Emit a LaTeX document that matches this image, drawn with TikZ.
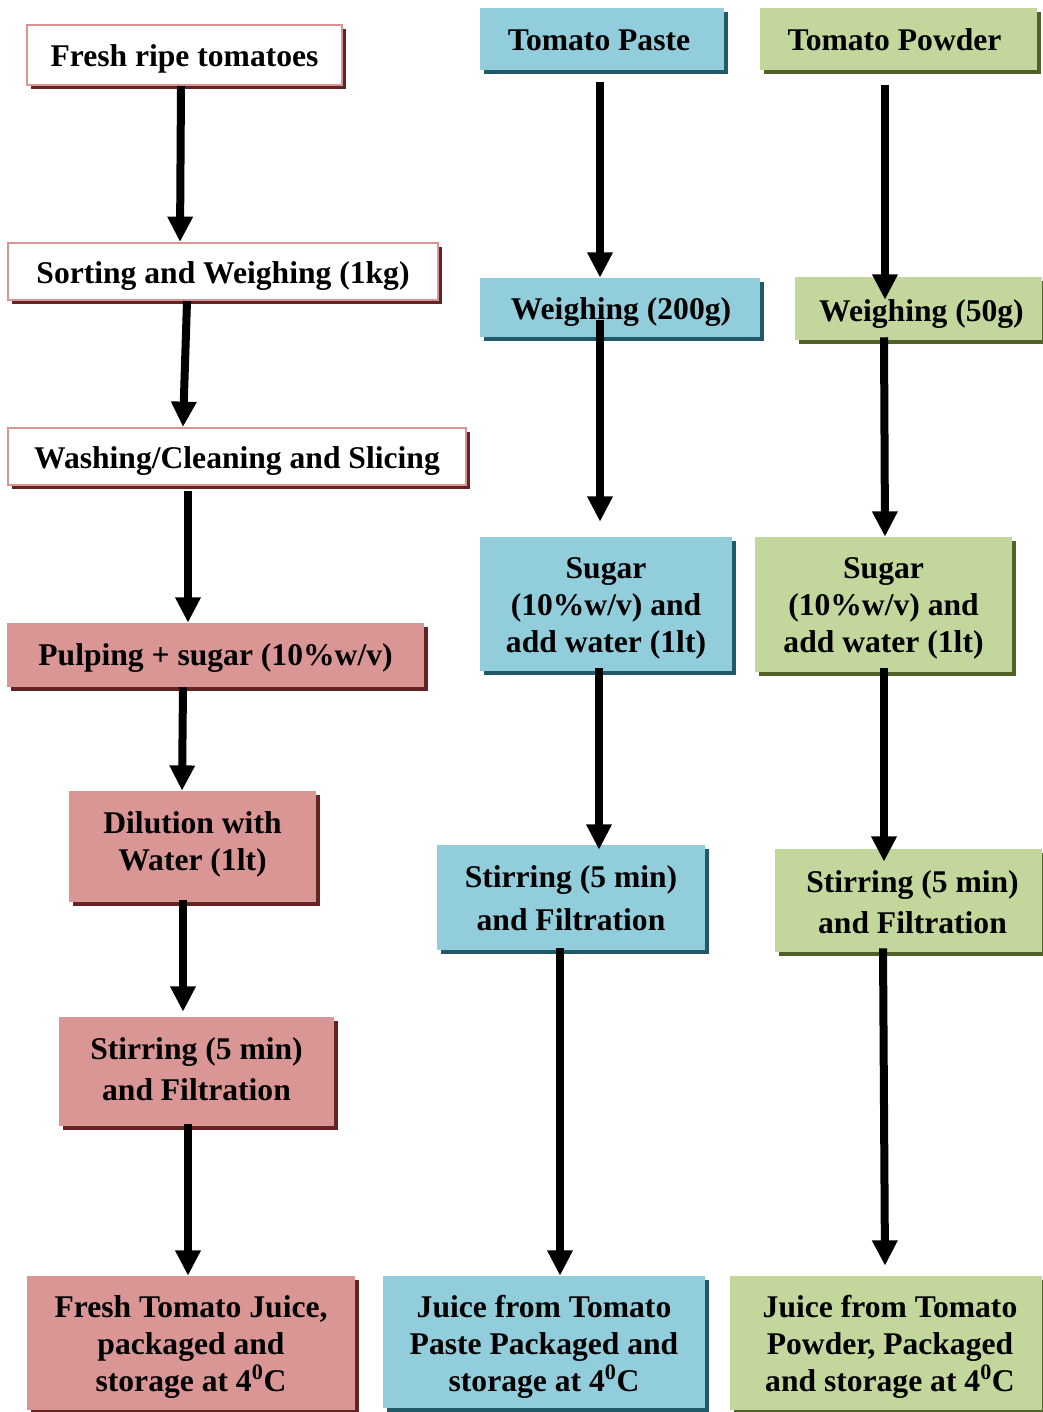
\documentclass[tikz,border=0pt]{standalone}
\usepackage{fontspec}
\setmainfont{Liberation Serif}
\usetikzlibrary{arrows.meta,shadows}
\definecolor{tjrose}    {HTML}{D99694}
\definecolor{tjroseline}{HTML}{D99594}
\definecolor{tjmaroon}  {HTML}{632523}
\definecolor{tjsky}     {HTML}{92CDDC}
\definecolor{tjteal}    {HTML}{215968}
\definecolor{tjsage}    {HTML}{C3D69B}
\definecolor{tjolive}   {HTML}{4F6228}
\newcommand{\pxu}{0.75pt}
\tikzset{
  tjbox/.style 2 args={minimum width=#1*\pxu, minimum height=#2*\pxu, inner sep=0pt},
  tjtext/.style 2 args={label={[align=center, shift={#1},
                       font=\fontsize{23.7}{27.8}\selectfont\bfseries]center:#2}},
  tjshade/.style={drop shadow={shadow xshift=3pt, shadow yshift=-3pt, fill=#1, opacity=1}},
  tjwhite/.style={fill=white, draw=tjroseline, line width=1.5pt, tjshade=tjmaroon},
  tjred/.style={fill=tjrose, tjshade=tjmaroon},
  tjblue/.style={fill=tjsky, tjshade=tjteal},
  tjgreen/.style={fill=tjsage, tjshade=tjolive},
  tjflow/.style={line width=6pt, -{Triangle[width=18pt,length=19pt]}},
}

\begin{document}
\begin{tikzpicture}[x=\pxu,y=-\pxu]
  \useasboundingbox (0,0) rectangle (1042,1412);
  \fill[white] (0,0) rectangle (1042,1412);

  % fresh tomatoes
  \node[tjwhite,tjbox={315}{60},tjtext={(0,4)}{Fresh ripe tomatoes}] (fresh) at (184.5,55) {};
  \node[tjwhite,tjbox={430}{57},tjtext={(0,5)}{Sorting and Weighing (1kg)}] (sort) at (223,271.5) {};
  \node[tjwhite,tjbox={458}{57},tjtext={(0,5)}{Washing/Cleaning and Slicing}] (wash) at (237,456.5) {};
  \node[tjred,tjbox={417}{64},tjtext={(0,3)}{Pulping + sugar (10\%w/v)}] (pulp) at (215.5,655) {};
  \node[tjred,tjbox={247}{111},tjtext={(0,-2)}{Dilution with\\Water (1lt)}] (dilu) at (192.5,846.5) {};
  \node[tjred,tjbox={275}{109},tjtext={(0,-2)}{Stirring (5 min)\\[3pt]and Filtration}] (stirL) at (196.5,1071.5) {};
  \node[tjred,tjbox={328}{134},
        tjtext={(0,4)}{Fresh Tomato Juice,\\packaged and\\storage at 4\textsuperscript{0}C}] (juiceL) at (191,1343) {};

  % tomato paste
  \node[tjblue,tjbox={244}{62},tjtext={(-3,1)}{Tomato Paste}] (paste) at (602,39) {};
  \node[tjblue,tjbox={280}{59},tjtext={(1,5)}{Weighing (200g)}] (weighB) at (620,307.5) {};
  \node[tjblue,tjbox={252}{134},tjtext={(0,4)}{Sugar\\(10\%w/v) and\\add water (1lt)}] (sugarB) at (606,604) {};
  \node[tjblue,tjbox={268}{105},tjtext={(0,1)}{Stirring (5 min)\\[4.5pt]and Filtration}] (stirB) at (571,897.5) {};
  \node[tjblue,tjbox={322}{132},
        tjtext={(0,5)}{Juice from Tomato\\Paste Packaged and\\storage at 4\textsuperscript{0}C}] (juiceB) at (544,1342) {};

  % tomato powder
  \node[tjgreen,tjbox={277}{62},tjtext={(-4,1)}{Tomato Powder}] (powder) at (898.5,39) {};
  \node[tjgreen,tjbox={247}{63},tjtext={(3,6)}{Weighing (50g)}] (weighG) at (918.5,308.5) {};
  \node[tjgreen,tjbox={257}{135},tjtext={(0,4)}{Sugar\\(10\%w/v) and\\add water (1lt)}] (sugarG) at (883.5,604.5) {};
  \node[tjgreen,tjbox={267}{103},tjtext={(4,2)}{Stirring (5 min)\\[3pt]and Filtration}] (stirG) at (908.5,900.5) {};
  \node[tjgreen,tjbox={312}{134},
        tjtext={(4,4)}{Juice from Tomato\\Powder, Packaged\\and storage at 4\textsuperscript{0}C}] (juiceG) at (886,1343) {};

  % arrows
  \draw[tjflow] ([shift={(-3.5,0)}]fresh.south) -- ([shift={(-43,0)}]sort.north);
  \draw[tjflow] ([shift={(-36,0)}]sort.south) -- ([shift={(-54,0)}]wash.north);
  \draw[tjflow] ([shift={(-49,5)}]wash.south) -- ([shift={(-27.5,0)}]pulp.north);
  \draw[tjflow] ([shift={(-32.5,0)}]pulp.south) -- ([shift={(-10.5,0)}]dilu.north);
  \draw[tjflow] ([shift={(-9.5,-2)}]dilu.south) -- ([shift={(-13.5,-5)}]stirL.north);
  \draw[tjflow] ([shift={(-8.5,-2)}]stirL.south) -- ([shift={(-3,0)}]juiceL.north);

  \draw[tjflow] ([shift={(-2,12)}]paste.south) -- ([shift={(-20,0)}]weighB.north);
  \draw[tjflow] ([shift={(-20,-17)}]weighB.south) -- ([shift={(-6,-15)}]sugarB.north);
  \draw[tjflow] ([shift={(-7,-3)}]sugarB.south) -- ([shift={(28,5)}]stirB.north);
  \draw[tjflow] ([shift={(-11,-2)}]stirB.south) -- ([shift={(16,0)}]juiceB.north);

  \draw[tjflow] ([shift={(-13.5,15)}]powder.south) -- ([shift={(-33.5,23)}]weighG.north);
  \draw[tjflow] ([shift={(-34.5,-3)}]weighG.south) -- ([shift={(1.5,0)}]sugarG.north);
  \draw[tjflow] ([shift={(0.5,-4)}]sugarG.south) -- ([shift={(-24.5,13)}]stirG.north);
  \draw[tjflow] ([shift={(-25.5,-4)}]stirG.south) -- ([shift={(-1,-10)}]juiceG.north);
\end{tikzpicture}
\end{document}
